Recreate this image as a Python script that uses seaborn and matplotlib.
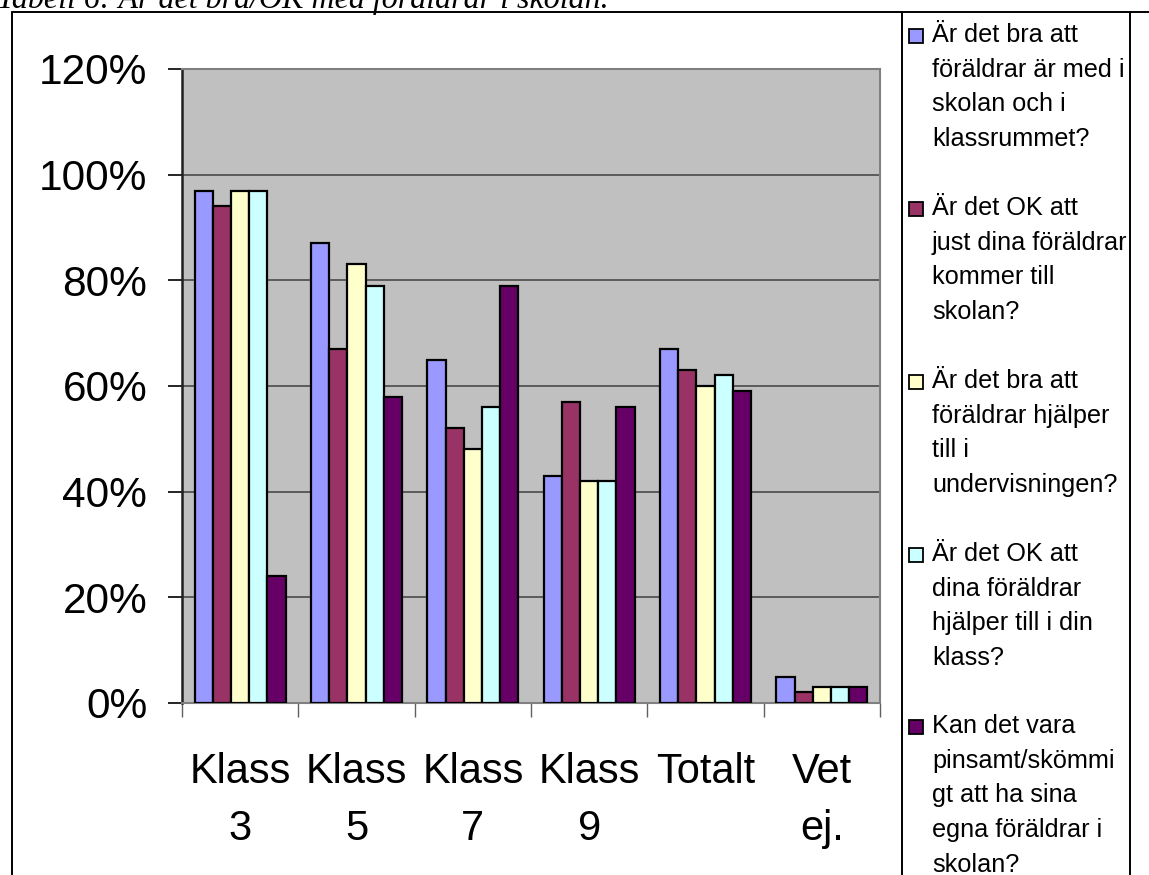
import numpy as np
import pandas as pd
import matplotlib
matplotlib.use("Agg")
import matplotlib.pyplot as plt
import matplotlib.ticker as mticker
from matplotlib.lines import Line2D
from matplotlib.patches import Rectangle
import seaborn as sns

categories = ["Klass\n3", "Klass\n5", "Klass\n7", "Klass\n9", "Totalt", "Vet\nej."]
questions = [
    "Är det bra att\nföräldrar är med i\nskolan och i\nklassrummet?",
    "Är det OK att\njust dina föräldrar\nkommer till\nskolan?",
    "Är det bra att\nföräldrar hjälper\ntill i\nundervisningen?",
    "Är det OK att\ndina föräldrar\nhjälper till i din\nklass?",
    "Kan det vara\npinsamt/skömmi\ngt att ha sina\negna föräldrar i\nskolan?",
]
bra_med = [0.97, 0.87, 0.65, 0.43, 0.67, 0.05]
ok_dina = [0.94, 0.67, 0.52, 0.57, 0.63, 0.02]
bra_hjalper = [0.97, 0.83, 0.48, 0.42, 0.60, 0.03]
ok_hjalper = [0.97, 0.79, 0.56, 0.42, 0.62, 0.03]
pinsamt = [0.24, 0.58, 0.79, 0.56, 0.59, 0.03]
colors = ["#9999FF", "#993366", "#FFFFCC", "#CCFFFF", "#660066"]

series = [bra_med, ok_dina, bra_hjalper, ok_hjalper, pinsamt]
rows = []
for q, vals in zip(questions, series):
    for c, v in zip(categories, vals):
        rows.append({"klass": c, "fraga": q, "andel": v})
df = pd.DataFrame(rows)

sns.set_style("white")
plt.rcParams["font.family"] = ["Liberation Sans", "DejaVu Sans"]
plt.rcParams["text.color"] = "black"
plt.rcParams["xtick.color"] = "black"
plt.rcParams["ytick.color"] = "black"
plt.rcParams["xtick.labelcolor"] = "black"
plt.rcParams["ytick.labelcolor"] = "black"

W, H = 1149, 875
fig = plt.figure(figsize=(W / 100, H / 100), dpi=100)
ax = fig.add_axes([182 / W, 1 - 703 / H, (880 - 182) / W, (703 - 69) / H])
ax.set_facecolor("#C0C0C0")

sns.barplot(data=df, x="klass", y="andel", hue="fraga", order=categories,
            hue_order=questions, palette=colors, saturation=1, width=0.78,
            edgecolor="black", linewidth=1.6, legend=False, ax=ax, zorder=3)

ax.set_ylim(0, 1.2)
ax.set_xlim(-0.5, len(categories) - 0.5)
ax.yaxis.set_major_locator(mticker.MultipleLocator(0.2))
ax.yaxis.set_major_formatter(mticker.PercentFormatter(1.0, decimals=0))
for y in np.arange(0.2, 1.01, 0.2):
    ax.axhline(y, color="#404040", lw=1.1, zorder=1)

ax.set_xlabel("")
ax.set_ylabel("")
ax.tick_params(axis="y", labelsize=30.5, length=10, width=1.2, color="black",
               labelcolor="black", direction="out", pad=15, left=True)
ax.tick_params(axis="x", which="major", labelsize=30, length=0, pad=35,
               labelcolor="black")
ax.set_xticks(np.arange(-0.5, len(categories), 1.0), minor=True)
ax.tick_params(axis="x", which="minor", length=10, width=1.0, color="#606060",
               direction="out", bottom=True)
for lab in ax.get_xticklabels():
    lab.set_linespacing(1.55)

for s in ["top", "right", "bottom"]:
    ax.spines[s].set_color("#808080")
    ax.spines[s].set_linewidth(1.5)
ax.spines["left"].set_color("#202020")
ax.spines["left"].set_linewidth(1.8)

# frame lines of the table the chart sits in
def fline(x0, y0, x1, y1):
    fig.add_artist(Line2D([x0 / W, x1 / W], [1 - y0 / H, 1 - y1 / H],
                          color="black", lw=1.4))

fline(12, 12, W, 12)
fline(12, 12, 12, H)
fline(902, 12, 902, H)
fline(1130, 12, 1130, H)

# caption, cut off at the top
fig.text(-3 / W, 1 - 8 / H, "Tabell 6: Är det bra/OK med föräldrar i skolan.",
         fontsize=23, fontstyle="italic", family="Liberation Serif",
         va="baseline", ha="left", color="black")

# legend
tops = [23, 196, 369, 542, 714]
for q, col, t in zip(questions, colors, tops):
    fig.add_artist(Rectangle((909 / W, 1 - (t + 20) / H), 14 / W, 14 / H,
                             facecolor=col, edgecolor="black", lw=1.3))
    txt = fig.text(932 / W, 1 - t / H, q, fontsize=18.2, va="top", ha="left",
                   linespacing=1.56, color="black")
    txt.set_clip_box(matplotlib.transforms.Bbox([[0, 0], [1129, H]]))
    txt.set_clip_on(True)

fig.savefig("out.png", dpi=100)
